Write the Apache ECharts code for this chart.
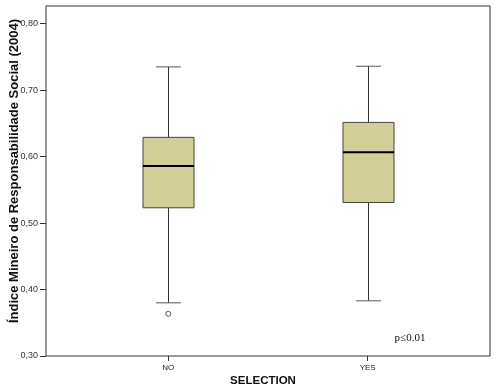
<!DOCTYPE html>
<html>
<head>
<meta charset="utf-8">
<script src="https://cdn.jsdelivr.net/npm/echarts@6/dist/echarts.min.js"></script>
<style>html,body{margin:0;padding:0;background:#fff;}#c{width:500px;height:390px;}</style>
</head>
<body>
<div id="c"></div>
<script>
var categories = ['NO', 'YES'];
var whiskerLow = [0.380, 0.383];
var quartile1 = [0.523, 0.531];
var medians = [0.586, 0.6065];
var quartile3 = [0.629, 0.6515];
var whiskerHigh = [0.735, 0.736];
var outliers = [[0, 0.3635]];
var yTicks = [0.3, 0.4, 0.5, 0.6, 0.7, 0.8];
var yTitle = 'Índice Mineiro de Responsabilidade Social (2004)';
var xTitle = 'SELECTION';
var note = 'p\u22640.01';

var boxData = categories.map(function (c, i) {
  return [i, whiskerLow[i], quartile1[i], medians[i], quartile3[i], whiskerHigh[i]];
});

var chart = echarts.init(document.getElementById('c'));
var lineCol = '#333';
chart.setOption({
  animation: false,
  backgroundColor: '#fff',
  grid: [
    { left: 46, right: 10, top: 6, bottom: 34, show: true, borderColor: '#333', borderWidth: 1, backgroundColor: 'transparent' },
    { left: 68.6, right: 32.6, top: 23.7, bottom: 34 }
  ],
  xAxis: [
    { gridIndex: 0, type: 'value', show: false, min: 0, max: 1 },
    { gridIndex: 1, type: 'category', data: categories, boundaryGap: true,
      axisLine: { show: false },
      axisTick: { show: true, alignWithLabel: true, length: 5, lineStyle: { color: lineCol } },
      axisLabel: { fontSize: 8, color: '#222', margin: 8, fontFamily: 'Liberation Sans, Arial, sans-serif' },
      splitLine: { show: false } }
  ],
  yAxis: [
    { gridIndex: 0, type: 'value', show: false, min: 0, max: 1 },
    { gridIndex: 1, type: 'value', min: yTicks[0], max: yTicks[yTicks.length - 1], interval: 0.1, offset: 22.6,
      axisLine: { show: false },
      axisTick: { show: true, length: 6, lineStyle: { color: lineCol } },
      axisLabel: { fontSize: 9, color: '#333', margin: 8, fontFamily: 'Liberation Sans, Arial, sans-serif',
        formatter: function (v) { return v.toFixed(2).replace('.', ','); } },
      splitLine: { show: false } }
  ],
  series: [
    {
      type: 'custom', xAxisIndex: 1, yAxisIndex: 1, data: boxData, z: 3,
      renderItem: function (params, api) {
        var x = api.value(0);
        var pLow = api.coord([x, api.value(1)]);
        var pQ1 = api.coord([x, api.value(2)]);
        var pMed = api.coord([x, api.value(3)]);
        var pQ3 = api.coord([x, api.value(4)]);
        var pHigh = api.coord([x, api.value(5)]);
        var bw = 51, cw = 25;
        var cx = Math.round(pMed[0]) + 0.5;
        return {
          type: 'group',
          children: [
            { type: 'line', shape: { x1: cx, y1: pQ3[1], x2: cx, y2: pHigh[1] }, style: { stroke: '#333', lineWidth: 1 } },
            { type: 'line', shape: { x1: cx, y1: pQ1[1], x2: cx, y2: pLow[1] }, style: { stroke: '#333', lineWidth: 1 } },
            { type: 'line', shape: { x1: cx - cw / 2, y1: pHigh[1], x2: cx + cw / 2, y2: pHigh[1] }, style: { stroke: '#555', lineWidth: 1 } },
            { type: 'line', shape: { x1: cx - cw / 2, y1: pLow[1], x2: cx + cw / 2, y2: pLow[1] }, style: { stroke: '#555', lineWidth: 1 } },
            { type: 'rect', shape: { x: cx - bw / 2, y: pQ3[1], width: bw, height: pQ1[1] - pQ3[1] },
              style: { fill: '#d3ce98', stroke: '#444', lineWidth: 1 } },
            { type: 'line', shape: { x1: cx - bw / 2, y1: pMed[1], x2: cx + bw / 2, y2: pMed[1] }, style: { stroke: '#000', lineWidth: 2 } }
          ]
        };
      }
    },
    {
      type: 'scatter', xAxisIndex: 1, yAxisIndex: 1, data: outliers, symbol: 'circle', symbolSize: 5, z: 4,
      itemStyle: { color: '#fff', borderColor: '#333', borderWidth: 1 }
    }
  ],
  graphic: [
    { type: 'text', x: 14, y: 171, rotation: Math.PI / 2,
      style: { text: yTitle, font: 'bold 13px "Liberation Sans", Arial, sans-serif', fill: '#111',
        textAlign: 'center', textVerticalAlign: 'middle', align: 'center', verticalAlign: 'middle' } },
    { type: 'text', x: 263, y: 381,
      style: { text: xTitle, font: 'bold 11.5px "Liberation Sans", Arial, sans-serif', fill: '#111',
        textAlign: 'center', textVerticalAlign: 'middle', align: 'center', verticalAlign: 'middle' } },
    { type: 'text', x: 410, y: 338,
      style: { text: note, font: '11px "Liberation Serif", "Times New Roman", serif', fill: '#111',
        textAlign: 'center', textVerticalAlign: 'middle', align: 'center', verticalAlign: 'middle' } }
  ]
});
</script>
</body>
</html>
